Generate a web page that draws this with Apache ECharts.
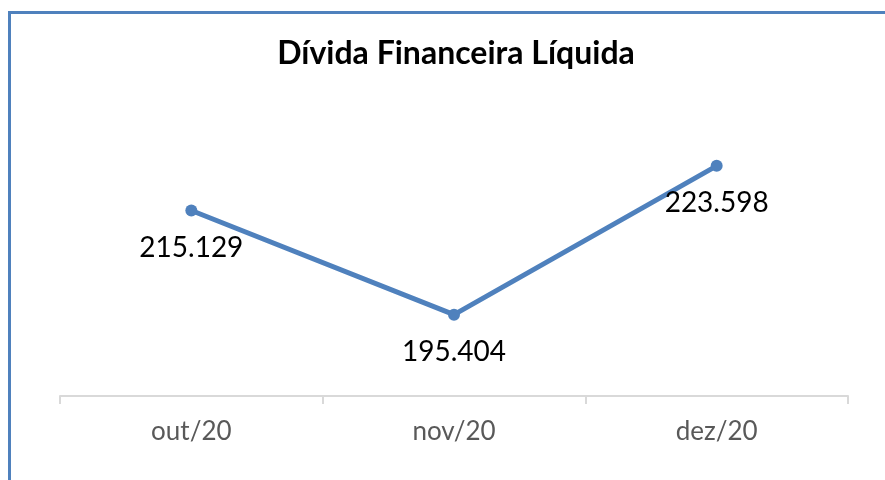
<!DOCTYPE html>
<html>
<head>
<meta charset="utf-8">
<script src="https://cdn.jsdelivr.net/npm/echarts@6/dist/echarts.min.js"></script>
<style>
  html, body { margin: 0; padding: 0; background: #fff; }
  #chart { width: 885px; height: 480px; }
</style>
</head>
<body>
<div id="chart"></div>
<script>
var titleText = 'Dívida Financeira Líquida'
var categories = ['out/20', 'nov/20', 'dez/20']
var values = [215.129, 195.404, 223.598]

var chart = echarts.init(document.getElementById('chart'), null, { renderer: 'canvas' })

chart.setOption({
  animation: false,
  backgroundColor: '#fff',
  title: {
    text: titleText,
    left: 451,
    textAlign: 'center',
    top: 33,
    textStyle: {
      fontFamily: 'Lato',
      fontWeight: 'bold',
      fontSize: 32,
      color: '#000'
    }
  },
  // frame lines (left and top edge of the chart box)
  graphic: [
    { type: 'rect', shape: { x: 8, y: 11, width: 3, height: 480 }, style: { fill: '#4f81bd' } },
    { type: 'rect', shape: { x: 8, y: 11, width: 885, height: 3 }, style: { fill: '#4f81bd' } }
  ],
  grid: {
    left: 60,
    right: 37,
    top: 132,
    bottom: 84
  },
  xAxis: {
    type: 'category',
    data: categories,
    boundaryGap: true,
    axisLine: { lineStyle: { color: '#d9d9d9', width: 2 } },
    axisTick: { show: true, length: 8, lineStyle: { color: '#d9d9d9', width: 2 } },
    axisLabel: {
      color: '#595959',
      fontFamily: 'Lato',
      fontSize: 26,
      margin: 23
    }
  },
  yAxis: {
    type: 'value',
    min: 180,
    max: 230,
    show: false
  },
  series: [{
    type: 'line',
    data: values,
    symbol: 'circle',
    symbolSize: 12,
    lineStyle: { color: '#4f81bd', width: 5 },
    itemStyle: { color: '#4f81bd' },
    label: {
      show: true,
      position: 'bottom',
      distance: 17,
      color: '#000',
      fontFamily: 'Lato',
      fontSize: 28,
      formatter: function (p) { return p.value.toFixed(3) }
    }
  }]
})
</script>
</body>
</html>
